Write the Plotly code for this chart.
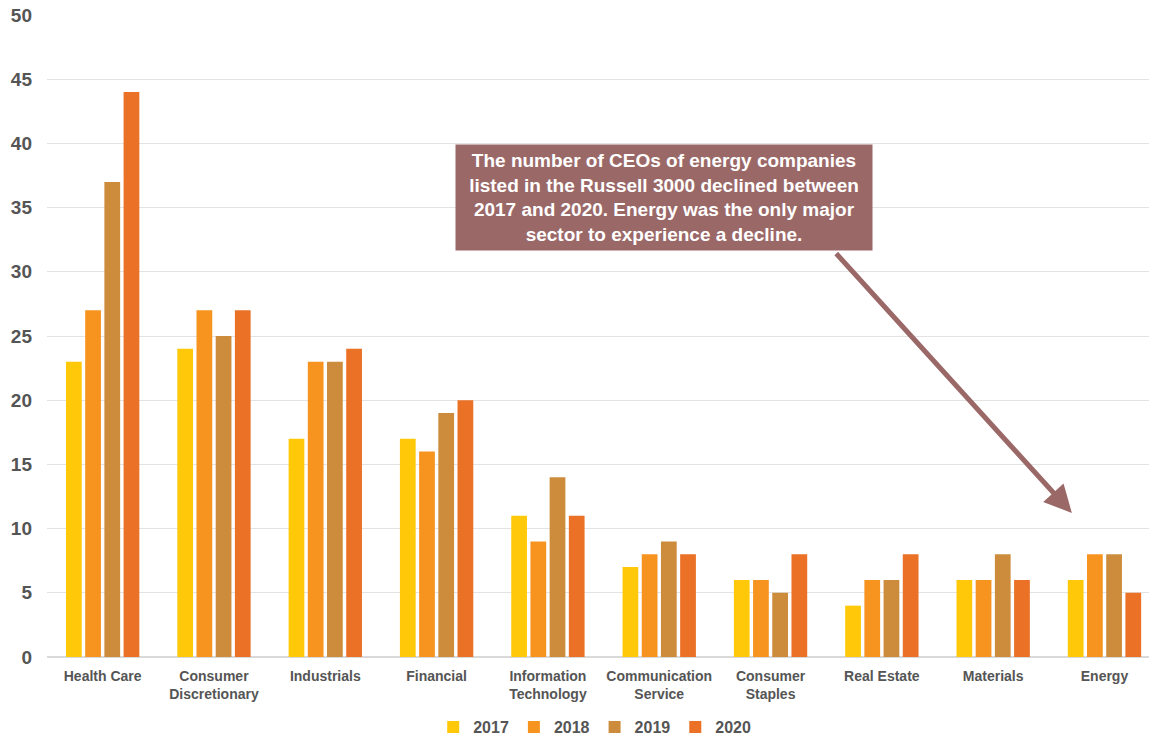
import plotly.graph_objects as go

categories = ["Health Care", "Consumer<br>Discretionary", "Industrials", "Financial",
              "Information<br>Technology", "Communication<br>Service", "Consumer<br>Staples",
              "Real Estate", "Materials", "Energy"]
years = ["2017", "2018", "2019", "2020"]
v2017 = [23, 24, 17, 17, 11, 7, 6, 4, 6, 6]
v2018 = [27, 27, 23, 16, 9, 8, 6, 6, 6, 8]
v2019 = [37, 25, 23, 19, 14, 9, 5, 6, 8, 8]
v2020 = [44, 27, 24, 20, 11, 8, 8, 8, 6, 5]
colors = ["#FFC90A", "#F7941F", "#CD8C3C", "#EA7126"]
yticks = [0, 5, 10, 15, 20, 25, 30, 35, 40, 45, 50]
note = ("The number of CEOs of energy companies<br>listed in the Russell 3000 declined between<br>"
        "2017 and 2020. Energy was the only major<br>sector to experience a decline.")

FONT = "Liberation Sans, Arial, Helvetica, sans-serif"
fig = go.Figure()
for name, vals, c in zip(years, [v2017, v2018, v2019, v2020], colors):
    fig.add_trace(go.Bar(x=list(range(len(categories))), y=vals, name=name,
                         marker=dict(color=c, line=dict(width=0))))

fig.update_layout(
    width=1149, height=735,
    margin=dict(l=47, r=0, t=15, b=78, autoexpand=False),
    paper_bgcolor="white", plot_bgcolor="white",
    barmode="group", bargap=0.31, bargroupgap=0.18,
    font=dict(family=FONT, color="#555555", weight="bold"),
    xaxis=dict(range=[-0.5, 9.4], tickmode="array", tickvals=list(range(len(categories))),
               ticktext=categories, tickfont=dict(size=14, color="#555555", family=FONT, weight="bold"),
               showgrid=False, showline=False, zeroline=False, ticks="", ticklabelstandoff=9),
    yaxis=dict(range=[0, 50], tickvals=yticks, showgrid=True, gridcolor="#E3E3E3", gridwidth=1,
               zeroline=True, zerolinecolor="#D9D9D9", zerolinewidth=1.5,
               tickfont=dict(size=19, color="#555555", family=FONT, weight="bold"),
               ticklabelstandoff=14),
    legend=dict(orientation="h", x=0.497, xanchor="center", y=-0.109, yanchor="middle",
                font=dict(size=16, color="#555555", family=FONT, weight="bold"),
                itemwidth=30, traceorder="normal", tracegroupgap=0),
    showlegend=True,
)

fig.add_annotation(xref="paper", yref="paper", x=0.56, y=0.7165, xanchor="center", yanchor="middle",
                   text=note, showarrow=False,
                   bgcolor="#9B6868", width=408, height=97, borderpad=4,
                   font=dict(size=19, color="white", family=FONT, weight="bold"), align="center")
fig.add_annotation(xref="paper", yref="paper", x=0.930, y=0.2243, axref="pixel", ayref="pixel",
                   ax=-237, ay=-261, text="", showarrow=True, arrowhead=2, arrowsize=1.1,
                   arrowwidth=5, arrowcolor="#9B6868", standoff=0, startstandoff=0)

fig.write_html("out.html")
